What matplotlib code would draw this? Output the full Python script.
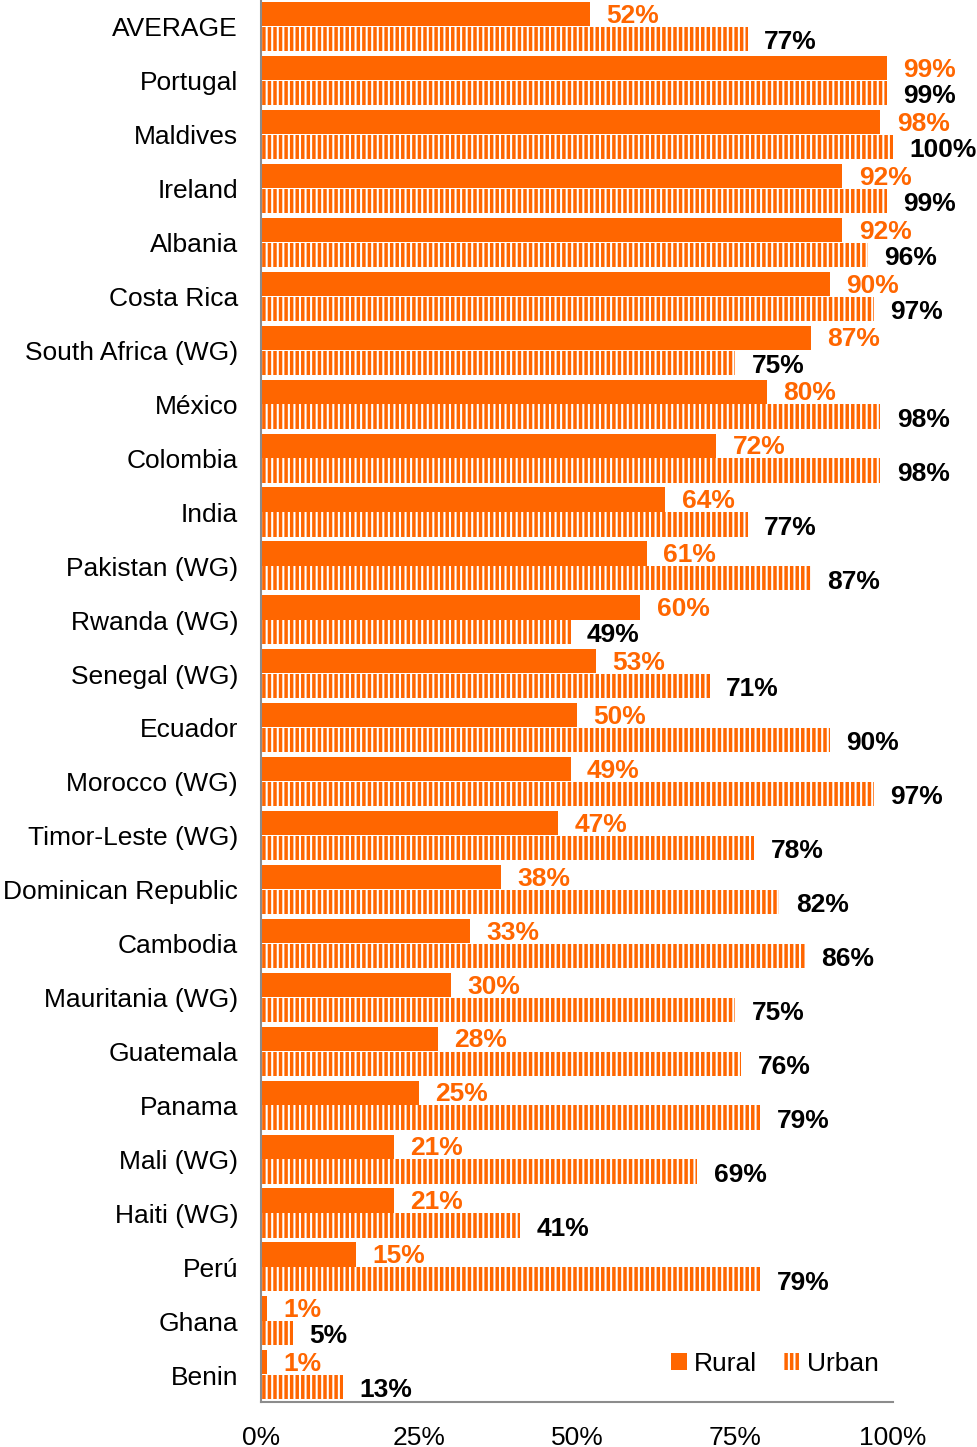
import matplotlib.pyplot as plt
from matplotlib.patches import Patch

plt.rcParams['font.family'] = ['Liberation Sans', 'DejaVu Sans']
plt.rcParams['hatch.linewidth'] = 2.5

countries = ['AVERAGE', 'Portugal', 'Maldives', 'Ireland', 'Albania', 'Costa Rica',
             'South Africa (WG)', 'México', 'Colombia', 'India', 'Pakistan (WG)',
             'Rwanda (WG)', 'Senegal (WG)', 'Ecuador', 'Morocco (WG)', 'Timor-Leste (WG)',
             'Dominican Republic', 'Cambodia', 'Mauritania (WG)', 'Guatemala', 'Panama',
             'Mali (WG)', 'Haiti (WG)', 'Perú', 'Ghana', 'Benin']
rural = [52, 99, 98, 92, 92, 90, 87, 80, 72, 64, 61, 60, 53, 50, 49, 47, 38, 33, 30, 28,
         25, 21, 21, 15, 1, 1]
urban = [77, 99, 100, 99, 96, 97, 75, 98, 98, 77, 87, 49, 71, 90, 97, 78, 82, 86, 75, 76,
         79, 69, 41, 79, 5, 13]
xticks = [0, 25, 50, 75, 100]

orange = '#FF6600'
gray = '#8C8C8C'

fig = plt.figure(figsize=(9.77, 14.47), dpi=100)
ax = fig.add_axes([261 / 977, 1 - 1402 / 1447, 632 / 977, 1402 / 1447])

pos = list(range(len(countries)))
r_pos = [p - 0.235 for p in pos]
u_pos = [p + 0.225 for p in pos]
ax.barh(r_pos, rural, height=0.45, color=orange, linewidth=0)
ax.barh(u_pos, urban, height=0.45, facecolor='white', edgecolor=orange,
        linewidth=0, hatch='|||')

for y, v in zip(r_pos, rural):
    ax.text(v + 2.6, y + 0.03, f'{v}%', color=orange, fontsize=19, fontweight='bold',
            va='center', ha='left')
for y, v in zip(u_pos, urban):
    ax.text(v + 2.6, y + 0.06, f'{v}%', color='black', fontsize=19, fontweight='bold',
            va='center', ha='left')

ax.set_xlim(0, 100)
ax.set_ylim(len(countries) - 0.5, -0.5)
ax.set_yticks(pos)
ax.set_yticklabels(countries, fontsize=19)
ax.set_xticks(xticks)
ax.set_xticklabels([f'{t}%' for t in xticks], fontsize=19)
ax.tick_params(axis='y', length=0, pad=16.5)
ax.tick_params(axis='x', length=0, pad=17)
for s in ['top', 'right']:
    ax.spines[s].set_visible(False)
for s in ['left', 'bottom']:
    ax.spines[s].set_color(gray)
    ax.spines[s].set_linewidth(1.5)

handles = [Patch(facecolor=orange, linewidth=0, label='Rural'),
           Patch(facecolor='white', edgecolor=orange, linewidth=0, hatch='|||',
                 label='Urban')]
fig.legend(handles=handles, loc='center', bbox_to_anchor=(775 / 977, 1 - 1364 / 1447),
           ncol=2, frameon=False, fontsize=19, handlelength=0.6, handleheight=0.6,
           handletextpad=0.25, columnspacing=1.05)

fig.savefig('out.png', dpi=100)
